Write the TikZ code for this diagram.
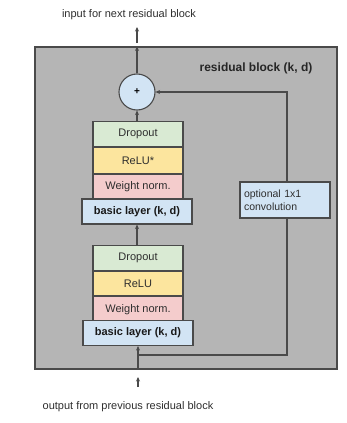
\documentclass[tikz,border=0pt]{standalone}
\usepackage{fontspec}
\setmainfont{Liberation Sans}
\usetikzlibrary{arrows.meta}
\definecolor{blockgray}{HTML}{B5B5B5}
\definecolor{edgegray}{HTML}{4A4A4A}
\definecolor{txtgray}{HTML}{2E2E2E}
\definecolor{dropgreen}{HTML}{D9EAD3}
\definecolor{reluyellow}{HTML}{FCE59E}
\definecolor{normpink}{HTML}{F4CCCC}
\definecolor{layerblue}{HTML}{D2E4F4}
\tikzset{
  layerbox/.style={draw=edgegray, line width=1.1pt, minimum width=90pt, text=txtgray,
    font=\fontsize{11}{13}\selectfont, inner sep=0pt, anchor=north},
  basicbox/.style={draw=edgegray, line width=1.1pt, fill=layerblue, minimum width=110pt,
    minimum height=25pt, inner sep=0pt, font=\bfseries\fontsize{11}{13}\selectfont, text=black!90},
  flow/.style={draw=edgegray, line width=1.1pt, -{Stealth[length=4.5pt,width=4pt]}},
  wire/.style={draw=edgegray, line width=1.1pt},
  caption/.style={font=\fontsize{11}{13}\selectfont, text=txtgray}
}
\begin{document}
\begin{tikzpicture}[x=1pt,y=-1pt]
  \useasboundingbox (0,0) rectangle (346,423);
  % residual block frame
  \node[draw=edgegray, line width=1.1pt, fill=blockgray, minimum width=302pt, minimum height=322pt,
        inner sep=0pt] (frame) at (186,208) {};
  \node[font=\bfseries\fontsize{12}{14}\selectfont, text=black!85] (title) at (256,68) {residual block (k, d)};

  % adder
  \node[circle, draw=edgegray, line width=1.1pt, fill=layerblue, minimum size=36pt, inner sep=0pt,
        font=\bfseries\fontsize{10}{12}\selectfont] (plus) at (137,92) {+};

  % upper stack
  \node[layerbox, fill=dropgreen, minimum height=25pt] (drop1) at (138,121) {Dropout};
  \node[layerbox, fill=reluyellow, minimum height=26pt] (relu1) at (drop1.south) {ReLU*};
  \node[layerbox, fill=normpink, minimum height=24pt] (norm1) at (relu1.south) {Weight norm.};
  \node[basicbox] (basic1) at (137,211.5) {basic layer (k, d)};

  % lower stack
  \node[layerbox, fill=dropgreen, minimum height=25pt] (drop2) at (138,245) {Dropout};
  \node[layerbox, fill=reluyellow, minimum height=24pt] (relu2) at (drop2.south) {ReLU};
  \node[layerbox, fill=normpink, minimum height=25pt] (norm2) at (relu2.south) {Weight norm.};
  \node[basicbox] (basic2) at (138,333) {basic layer (k, d)};

  % skip connection box
  \node[draw=edgegray, line width=1.1pt, fill=layerblue, minimum height=36pt,
        text width=82pt, inner xsep=4pt, inner ysep=0pt, align=left,
        font=\fontsize{10.5}{13}\selectfont, text=txtgray] (conv) at (285,200)
        {optional 1x1\\convolution};

  % captions
  \node[caption] (outtxt) at (129,15) {input for next residual block};
  \node[caption] (intxt) at (128,407) {output from previous residual block};
  \coordinate (inbot) at (138,387);
  \coordinate (intop) at (138,377);
  \coordinate (outbot) at (137,43);
  \coordinate (outtop) at (137,27);
  \coordinate (split) at (138,355);

  % connectors
  \draw[flow] (inbot) -- (intop);
  \draw[flow] (frame.south -| split) -- (basic2.south);
  \draw[flow] (drop2.north -| basic1) -- (basic1.south);
  \draw[flow] (drop1.north -| plus) -- (plus.south);
  \draw[flow] (plus.north) -- (frame.north -| plus);
  \draw[flow] (outbot) -- (outtop);
  \draw[wire] (split) -- (split -| 287,0) -- (conv.south -| 287,0);
  \draw[flow] (conv.north -| 287,0) -- (287,92) -- (plus.east);
\end{tikzpicture}
\end{document}
